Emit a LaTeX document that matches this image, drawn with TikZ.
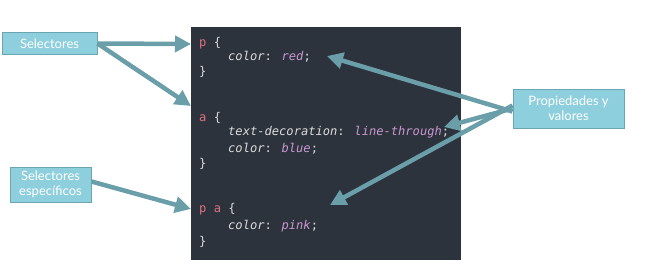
\documentclass[tikz,border=0pt]{standalone}
\usepackage{fontspec}
\setmainfont{Lato}
\newfontfamily\codefont{DejaVu Sans Mono}
\usetikzlibrary{arrows.meta}
\definecolor{panelbg}{HTML}{2C333C}
\definecolor{labelfill}{HTML}{8ECFDD}
\definecolor{labeledge}{HTML}{6BA5B2}
\definecolor{pointer}{HTML}{6A9EA8}
\definecolor{selcol}{HTML}{E0707E}
\definecolor{propcol}{HTML}{DCDCDC}
\definecolor{valcol}{HTML}{C898D0}
\tikzset{
  label box/.style={draw=labeledge, line width=1pt, fill=labelfill, text=white,
    font=\fontsize{13}{14.5}\selectfont, align=center, inner sep=0pt},
  code/.style={anchor=base west, inner sep=0pt, text=propcol,
    font=\codefont\fontsize{12.1}{13}\selectfont},
  pointer arrow/.style={draw=pointer, line width=4.5pt,
    -{Triangle[length=16pt,width=16pt]}}
}
\newcommand{\sel}[1]{\textcolor{selcol}{#1}}
\newcommand{\prop}[1]{\textit{#1}}
\newcommand{\val}[1]{\textcolor{valcol}{\textit{#1}}}
\begin{document}
\begin{tikzpicture}[x=1pt,y=-1pt]
  \useasboundingbox (0,0) rectangle (657,268);
  % code panel
  \fill[panelbg] (191,27) rectangle (461,260);
  % stylesheet
  \node[code] (l1) at (199,46) {\sel{p} \{};
  \node[code] (l2) at (228,60) {\prop{color}: \val{red};};
  \node[code] (l3) at (199,75) {\}};
  \node[code] (l4) at (199,121) {\sel{a} \{};
  \node[code] (l5) at (228,135) {\prop{text-decoration}: \val{line-through};};
  \node[code] (l6) at (228,152) {\prop{color}: \val{blue};};
  \node[code] (l7) at (199,167) {\}};
  \node[code] (l8) at (199,212) {\sel{p a} \{};
  \node[code] (l9) at (228,229) {\prop{color}: \val{pink};};
  \node[code] (l10) at (199,245) {\}};
  % labels
  \node[label box, minimum width=95pt, minimum height=22pt] (sel) at (49.5,43.5) {Selectores};
  \node[label box, minimum width=81pt, minimum height=35pt] (spec) at (50.5,184.5)
    {Selectores\\específicos};
  \node[label box, minimum width=111pt, minimum height=39pt] (props) at (568.5,108.5)
    {Propiedades y\\valores};
  % arrow targets
  \coordinate (tp) at (191,44);
  \coordinate (ta) at (191,106);
  \coordinate (tpa) at (191,209);
  \coordinate (tred) at (327,56);
  \coordinate (tline) at (444,127);
  \coordinate (tpink) at (330,205);
  % pointers
  \draw[pointer arrow] (sel.east) -- (tp);
  \draw[pointer arrow] (sel.east) -- (ta);
  \draw[pointer arrow] ([yshift=3pt]spec.east) -- (tpa);
  \draw[pointer arrow] ([yshift=-3pt]props.west) -- (tred);
  \draw[pointer arrow] (props.west) -- (tline);
  \draw[pointer arrow] ([yshift=3pt]props.west) -- (tpink);
\end{tikzpicture}
\end{document}
